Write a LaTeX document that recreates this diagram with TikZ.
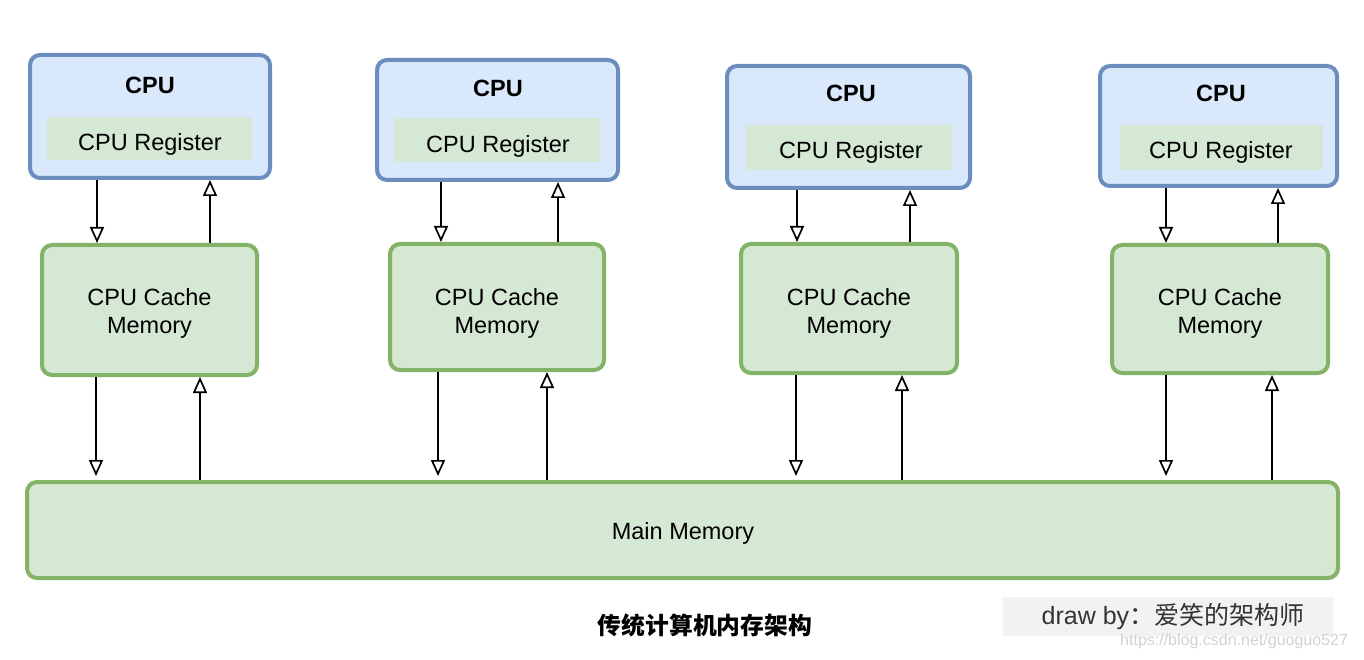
\documentclass[tikz,border=0pt]{standalone}
\usepackage{fontspec}
\setmainfont{Liberation Sans}
\newfontfamily\cjk{Noto Sans CJK SC}
\usetikzlibrary{arrows.meta}
\definecolor{bluefill}{HTML}{DAE8FC}
\definecolor{blueline}{HTML}{6C8EBF}
\definecolor{greenfill}{HTML}{D5E8D4}
\definecolor{greenline}{HTML}{82B366}
\definecolor{wmfill}{HTML}{F2F2F2}
\tikzset{
  txt/.style={font=\fontsize{23.5}{28}\selectfont, align=center, inner sep=0pt},
  cpubox/.style={draw=blueline, fill=bluefill, line width=4pt, rounded corners=10pt, inner sep=0pt},
  regbox/.style={fill=greenfill, inner sep=0pt},
  cachebox/.style={draw=greenline, fill=greenfill, line width=4pt, rounded corners=10pt, inner sep=0pt},
  arr/.style={line width=1.7pt, -{Triangle[open, length=16pt, width=14pt]}},
}
\begin{document}
\begin{tikzpicture}[x=1pt, y=-1pt]
\useasboundingbox (0,0) rectangle (1364,660);
% CPU boxes
\foreach \i/\cx/\cy/\w/\h in {1/150/116.5/240/123, 2/497.5/120/241/120, 3/848.5/127/243/122, 4/1218.5/126/237/120}{
  \node[cpubox, minimum width=\w pt, minimum height=\h pt] (cpu\i) at (\cx,\cy) {};
}
\foreach \i/\cx/\cy/\w/\h in {1/149.5/138.5/205/43, 2/497/140/206/44, 3/849/147.5/206/45, 4/1221.5/147.5/203/45}{
  \node[regbox, minimum width=\w pt, minimum height=\h pt] (reg\i) at (\cx,\cy) {};
}
\foreach \i/\cx/\ty/\ry in {1/150/85/144, 2/498/88/146, 3/851/93/152, 4/1221/93/152}{
  \node[txt, font=\fontsize{23.5}{28}\selectfont\bfseries] (cput\i) at (\cx,\ty) {CPU};
  \node[txt] (regt\i) at (\cx,\ry) {CPU Register};
}
% Cache boxes
\foreach \i/\cx/\cy/\w/\h in {1/149.5/310/215/130, 2/497/307/214/126, 3/849/308.5/216/129, 4/1220/309/216/128}{
  \node[cachebox, minimum width=\w pt, minimum height=\h pt] (cache\i) at (\cx,\cy) {};
  \node[txt] (cachet\i) at (\cx,313.5) {CPU Cache\\Memory};
}
% Main memory
\node[cachebox, minimum width=1311pt, minimum height=96pt] (main) at (682.5,530) {};
\node[txt] (maint) at (683,533) {Main Memory};
% Arrows
\foreach \i/\a/\b/\c/\d in {1/97/210/96/200, 2/441/558/438/547, 3/797/910/796/902, 4/1166/1278/1166/1272}{
  \coordinate (xa\i) at (\a,0);
  \coordinate (xb\i) at (\b,0);
  \coordinate (xc\i) at (\c,0);
  \coordinate (xd\i) at (\d,0);
  \draw[arr] (cpu\i.south -| xa\i) -- (cache\i.north -| xa\i);
  \draw[arr] (cache\i.north -| xb\i) -- (cpu\i.south -| xb\i);
  \draw[arr] (cache\i.south -| xc\i) -- ([yshift=4pt]main.north -| xc\i);
  \draw[arr] (main.north -| xd\i) -- (cache\i.south -| xd\i);
}
% Caption
\node[inner sep=0pt, font=\cjk\fontsize{23.8}{28}\selectfont\bfseries] (cap) at (705,625) {传统计算机内存架构};
% Watermark
\node[fill=wmfill, minimum width=330pt, minimum height=39pt, inner sep=0pt] (wm) at (1168,616.5) {};
\node[inner sep=0pt, text=black!80, font=\fontsize{25}{28}\selectfont] (wmt) at (1173,617) {draw by{\cjk：爱笑的架构师}};
\node[inner sep=0pt, anchor=west, text=black!18, font=\fontsize{16}{18}\selectfont] (url) at (1120,641) {https://blog.csdn.net/guoguo527};
\end{tikzpicture}
\end{document}
